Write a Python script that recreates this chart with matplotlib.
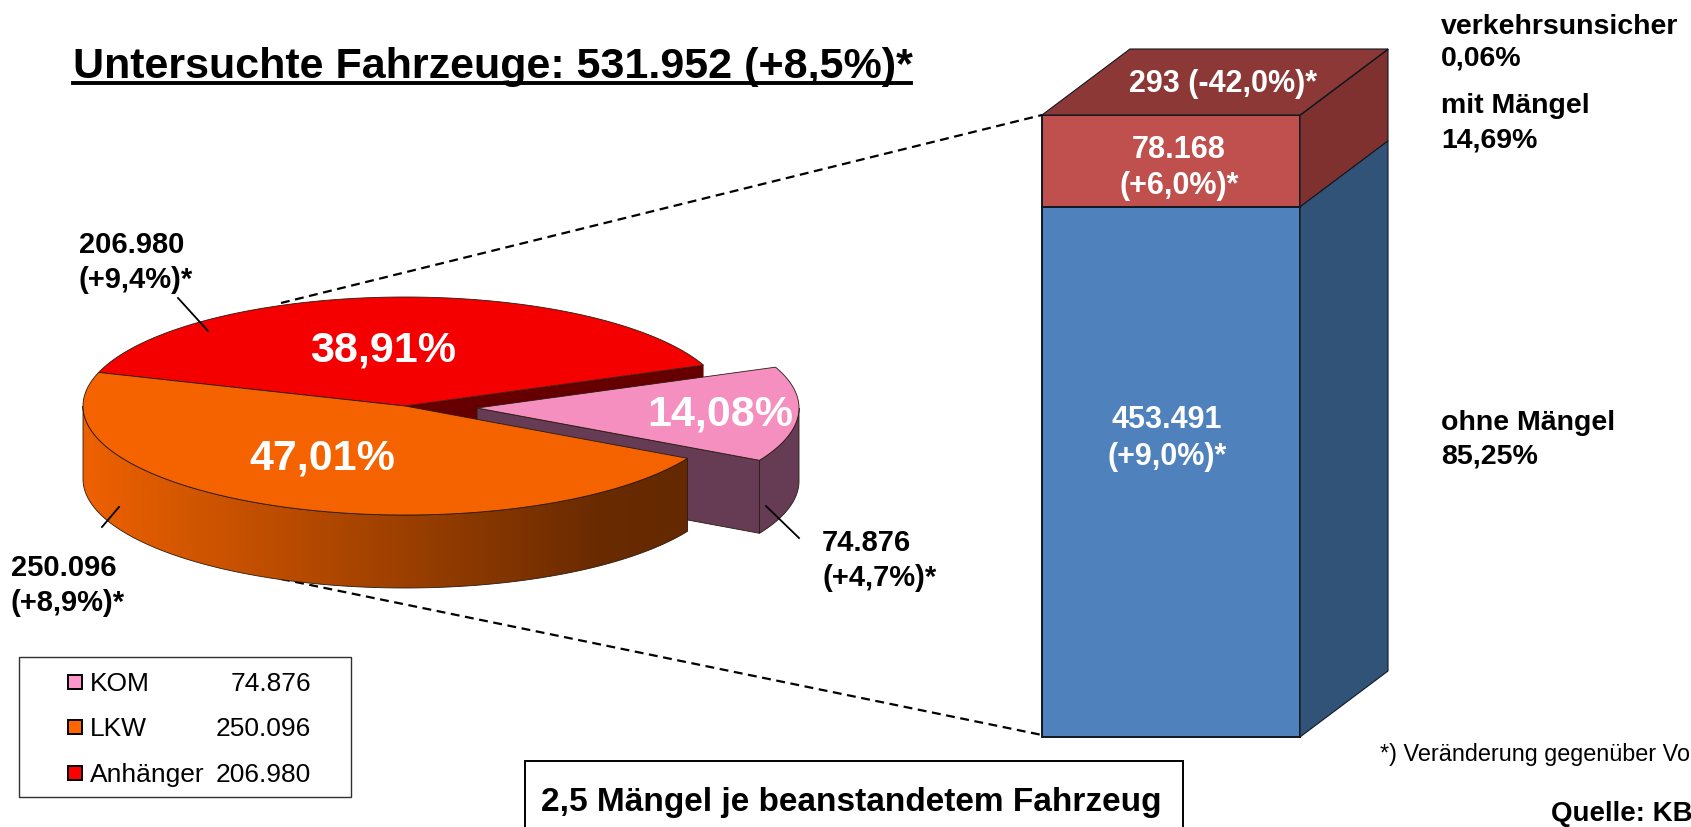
"""
Untersuchte Fahrzeuge: pie with exploded slice and a stacked block next to it.
"""
import numpy as np
import matplotlib
matplotlib.use("Agg")
import matplotlib.pyplot as plt
from matplotlib.colors import LinearSegmentedColormap
from matplotlib.patches import Polygon, Rectangle

plt.rcParams["font.family"] = ["Liberation Sans", "DejaVu Sans"]

# data
pie_names = ["Anhänger", "LKW", "KOM"]
pie_values = [206980, 250096, 74876]
pie_percent = ["38,91%", "47,01%", "14,08%"]
pie_change = ["(+9,4%)*", "(+8,9%)*", "(+4,7%)*"]
pie_counts = ["206.980", "250.096", "74.876"]
legend_names = ["KOM", "LKW", "Anhänger"]
legend_counts = ["74.876", "250.096", "206.980"]
bar_names = ["ohne Mängel", "mit Mängel", "verkehrsunsicher"]
bar_values = [453491, 78168, 293]
bar_percent = ["85,25%", "14,69%", "0,06%"]
bar_counts = ["453.491", "78.168", "293"]
bar_change = ["(+9,0%)*", "(+6,0%)*", "(-42,0%)*"]
title = "Untersuchte Fahrzeuge: 531.952 (+8,5%)*"
note = "2,5 Mängel je beanstandetem Fahrzeug"
footnote = "*) Veränderung gegenüber Vo"
source = "Quelle: KB"

# layout, all in pixels of the picture
W, H = 1691, 827
CX, CY, RX, RY, DEPTH = 405, 406, 322, 109, 73
START = 22.0
EXPLODE = (72, 2)
BAR_L, BAR_R, BAR_TOP, BAR_BOTTOM = 1042, 1300, 115, 737
BACK = (88, -66)
EDGE = "#2a1a10"


def arc(a0, a1, cx=CX, cy=CY, n=120):
    t = np.radians(np.linspace(a0, a1, n))
    return np.column_stack([cx + RX * np.cos(t), cy - RY * np.sin(t)])


def wedge(ax, a0, a1, color, cx=CX, cy=CY):
    pts = np.vstack([[cx, cy], arc(a0, a1, cx, cy)])
    ax.add_patch(Polygon(pts, closed=True, fc=color, ec=EDGE, lw=0.6, zorder=ax.zo))
    ax.zo += 1


def wall(ax, a0, a1, color, cx=CX, cy=CY):
    top = arc(a0, a1, cx, cy)
    low = top[::-1] + [0, DEPTH]
    ax.add_patch(Polygon(np.vstack([top, low]), closed=True, fc=color, ec=EDGE, lw=0.6, zorder=ax.zo))
    ax.zo += 1


def plot_pie(ax):
    angles = START + np.cumsum([0] + pie_values) / sum(pie_values) * 360
    red0, red1, kom1 = angles[0], angles[1], angles[3]
    orange1 = angles[2]

    # cut face behind the exploded slice
    cut = np.array([[CX, CY], arc(red0, red0, n=1)[0], arc(red0, red0, n=1)[0] + [0, DEPTH], [CX, CY + DEPTH]])
    ax.add_patch(Polygon(cut, closed=True, fc="#660000", ec="none", zorder=ax.zo))
    ax.zo += 1
    wedge(ax, red0, red1, "#f50000")

    # exploded slice
    kx, ky = CX + EXPLODE[0], CY + EXPLODE[1]
    first = arc(orange1, orange1, kx, ky, n=1)[0]
    side = np.array([[kx, ky], first, first + [0, DEPTH], [kx, ky + DEPTH]])
    ax.add_patch(Polygon(side, closed=True, fc="#663c55", ec=EDGE, lw=0.6, zorder=ax.zo))
    ax.zo += 1
    wall(ax, orange1, 360, "#663c55", kx, ky)
    wedge(ax, orange1, kom1, "#f48fc0", kx, ky)

    # orange wall with the gradient
    top = arc(180, orange1)
    low = top[::-1] + [0, DEPTH]
    shape = Polygon(np.vstack([top, low]), closed=True, fc="none", ec=EDGE, lw=0.6,
                    transform=ax.transData, zorder=ax.zo + 1)
    cmap = LinearSegmentedColormap.from_list("wall", [(0, "#ee6100"), (0.85, "#6a2b00"), (1, "#642900")])
    img = ax.imshow(np.linspace(0, 1, 256)[None, :], cmap=cmap, aspect="auto",
                    extent=(CX - RX, top[-1][0], CY + RY + DEPTH, CY), zorder=ax.zo)
    img.set_clip_path(shape)
    ax.add_patch(shape)
    ax.zo += 2
    wedge(ax, red1, orange1, "#f56200")


def plot_bar(ax):
    total = sum(bar_values)
    scale = (BAR_BOTTOM - BAR_TOP) / total
    width = BAR_R - BAR_L
    front = ["#4f81bd", "#c0504d", "#8c3836"]
    sides = ["#325378", "#7f312f", "#7f312f"]
    base = BAR_BOTTOM
    for value, col, col_side in zip(bar_values, front, sides):
        height = value * scale
        ax.add_patch(Rectangle((BAR_L, base - height), width, height, fc=col, ec="#101820", lw=1.4, zorder=20))
        side = [(BAR_R, base), (BAR_R, base - height),
                (BAR_R + BACK[0], base - height + BACK[1]), (BAR_R + BACK[0], base + BACK[1])]
        ax.add_patch(Polygon(side, closed=True, fc=col_side, ec="#101820", lw=0.8, zorder=20))
        base -= height
    lid = [(BAR_L, base), (BAR_R, base), (BAR_R + BACK[0], base + BACK[1]), (BAR_L + BACK[0], base + BACK[1])]
    ax.add_patch(Polygon(lid, closed=True, fc=front[2], ec="#101820", lw=0.8, zorder=21))


def plot_texts(ax):
    txt = dict(ha="left", va="center", fontweight="bold", color="black", zorder=40)
    white = dict(ha="center", va="center", fontweight="bold", color="white", zorder=40)

    ax.text(73, 67, title, ha="left", va="center", fontsize=31, fontweight="bold", zorder=40)
    ax.plot([73, 911], [83, 83], color="black", lw=2.8, zorder=40)

    # pie labels
    ax.text(383, 351, pie_percent[0], fontsize=31, **white)
    ax.text(322, 459, pie_percent[1], fontsize=31, **white)
    ax.text(720, 414, pie_percent[2], fontsize=31, **white)
    for (x, y), count, change in zip([(79, 245), (11, 568), (822, 543)], pie_counts, pie_change):
        ax.text(x, y, count, fontsize=21, **txt)
        ax.text(x, y + 35, change, fontsize=21, **txt)
    for xs, ys in [([178, 208], [298, 331]), ([119, 102], [507, 527]), ([766, 799], [506, 538])]:
        ax.plot(xs, ys, color="black", lw=1.3, zorder=40)

    # block labels
    ax.text(1223, 84, f"{bar_counts[2]} {bar_change[2]}", fontsize=22, **white)
    ax.text(1179, 150, bar_counts[1], fontsize=22, **white)
    ax.text(1179, 186, bar_change[1], fontsize=22, **white)
    ax.text(1167, 420, bar_counts[0], fontsize=22, **white)
    ax.text(1167, 457, bar_change[0], fontsize=22, **white)
    for y, name, percent in zip([423, 106, 27], bar_names, bar_percent):
        ax.text(1441, y, name, fontsize=20.5, **txt)
        ax.text(1441, y + 34 - (y == 27) * 3, percent, fontsize=20.5, **txt)

    # legend
    ax.add_patch(Rectangle((19, 657), 332, 140, fc="white", ec="#303030", lw=1.0, zorder=30))
    for y, name, count, col in zip([682, 727, 773], legend_names, legend_counts, ["#ff99cc", "#ff6600", "#ff0000"]):
        ax.add_patch(Rectangle((68, y - 7), 14, 14, fc=col, ec="black", lw=1.4, zorder=31))
        ax.text(90, y + 2, name, ha="left", va="center", fontsize=19, zorder=40)
        ax.text(311, y + 2, count, ha="right", va="center", fontsize=19, zorder=40)

    # box and notes at the bottom, cut off by the picture edge
    ax.add_patch(Rectangle((525, 761), 658, 90, fc="white", ec="black", lw=1.4, zorder=30))
    ax.text(851, 802, note, ha="center", va="center", fontsize=24, fontweight="bold", zorder=40)
    ax.text(1380, 755, footnote, ha="left", va="center", fontsize=16.8, zorder=40, clip_on=True)
    ax.text(1551, 814, source, ha="left", va="center", fontsize=20, fontweight="bold", zorder=40, clip_on=True)


def main():
    fig = plt.figure(figsize=(W / 100, H / 100), dpi=100, facecolor="white")
    ax = fig.add_axes([0, 0, 1, 1])
    ax.zo = 5

    # dashed connectors run behind the pie
    ax.plot([281, BAR_L], [303, BAR_TOP], color="black", lw=1.6, ls=(0, (4, 2.5)), zorder=2)
    ax.plot([281, BAR_L], [579, 735], color="black", lw=1.6, ls=(0, (4, 2.5)), zorder=2)

    plot_pie(ax)
    plot_bar(ax)
    plot_texts(ax)

    ax.set_xlim(0, W)
    ax.set_ylim(H, 0)
    ax.axis("off")
    fig.savefig("out.png", dpi=100, facecolor="white")


if __name__ == '__main__':
    main()
